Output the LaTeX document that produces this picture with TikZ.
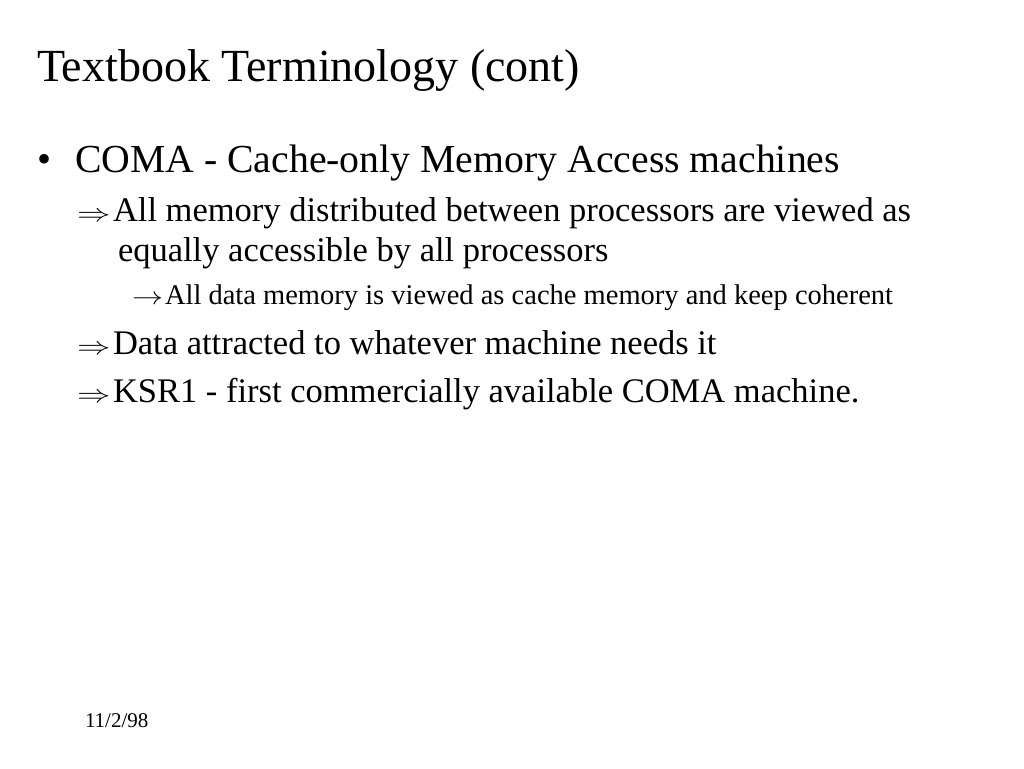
\documentclass[tikz,border=0pt]{standalone}
\usepackage{fontspec}
\usepackage{graphicx}
\setmainfont{Liberation Serif}
\begin{document}
\begin{tikzpicture}[x=1pt,y=1pt,
  txt/.style={anchor=base west,inner sep=0pt,outer sep=0pt,text=black},
  lvtwo/.style={txt,font=\fontsize{34.5}{40}\selectfont},
  arr/.style={anchor=base west,inner sep=0pt,outer sep=0pt,font=\fontsize{28}{32}\selectfont}]
\useasboundingbox[fill=white] (0,0) rectangle (1024,768);
\node[txt,font=\fontsize{46}{54}\selectfont] (title) at (37,768-82) {Textbook Terminology (cont)};
\node[txt,font=\fontsize{40}{48}\selectfont] (bul) at (37,768-173) {\textbullet};
\node[txt,font=\fontsize{39.75}{48}\selectfont] (b1) at (75,768-173) {COMA - Cache-only Memory Access machines};
\node[arr] (a2) at (77,768-222) {\scalebox{1.35}[1]{$\Rightarrow$}};
\node[lvtwo] (b2a) at (113,768-222) {All memory distributed between processors are viewed as};
\node[lvtwo] (b2b) at (118,768-262) {equally accessible by all processors};
\node[arr,font=\fontsize{24}{28}\selectfont] (a3) at (132,768-305) {\scalebox{1.25}[1]{$\rightarrow$}};
\node[txt,font=\fontsize{28.5}{32}\selectfont] (b3) at (165,768-305) {All data memory is viewed as cache memory and keep coherent};
\node[arr] (a4) at (77,768-355) {\scalebox{1.35}[1]{$\Rightarrow$}};
\node[lvtwo] (b4) at (113,768-355) {Data attracted to whatever machine needs it};
\node[arr] (a5) at (77,768-403) {\scalebox{1.35}[1]{$\Rightarrow$}};
\node[lvtwo] (b5) at (113,768-403) {KSR1 - first commercially available COMA machine.};
\node[txt,font=\fontsize{21}{25}\selectfont] (date) at (85,768-727) {11/2/98};
\end{tikzpicture}
\end{document}
